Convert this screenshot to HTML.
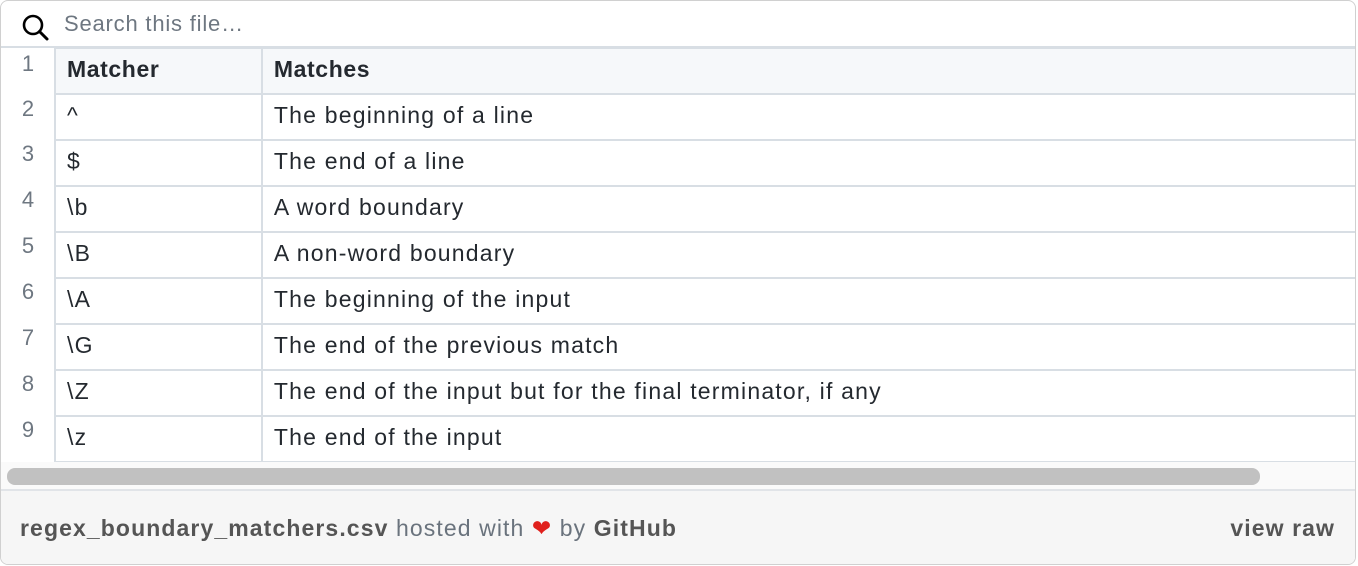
<!DOCTYPE html>
<html><head><style>
body{margin:0;width:1358px;height:566px;background:#fff;font-family:"Liberation Sans",sans-serif;overflow:hidden}
.box{position:absolute;left:0;top:0;width:1354px;height:563px;border:1px solid #d0d0d0;border-radius:8px;overflow:hidden;background:#fff}
.search{position:absolute;left:0;top:0;width:1354px;height:45px;border-bottom:2px solid #d8dee4}
.search span{position:absolute;left:63px;top:10px;font-size:22px;letter-spacing:0.8px;color:#6e7781}
.ln{position:absolute;left:0;width:54px;text-align:center;font-size:22px;color:#6e7781}
table{position:absolute;left:53px;top:46px;border-collapse:collapse;font-size:23px;letter-spacing:1.2px;color:#24292f}
td{border:2px solid #d8dee4;height:44px;padding:0 0 3px 11px;vertical-align:middle;box-sizing:border-box}
tr{height:46px}
tr:first-child td{background:#f6f8fa;font-weight:bold;letter-spacing:0.6px}
td:first-child{width:207px}
td:last-child{width:1094px;border-right:none}
.sb{position:absolute;left:0;top:461px;width:1354px;height:27px;background:#fafafa;border-bottom:2px solid #e1e4e8}
.thumb{position:absolute;left:6px;top:6px;width:1253px;height:17px;border-radius:8px;background:#c1c1c1}
.foot{position:absolute;left:0;top:490px;width:1354px;height:74px;background:#f6f6f6;font-size:23px;letter-spacing:1.1px;color:#6a737d}
.foot b{color:#555}
</style></head><body>
<div class="box">
<div class="search">
<svg style="position:absolute;left:20px;top:12px" width="30" height="30" viewBox="0 0 30 30"><circle cx="12" cy="12" r="9" fill="none" stroke="#000" stroke-width="2.6"/><line x1="18.5" y1="18.5" x2="26" y2="26" stroke="#000" stroke-width="3" stroke-linecap="round"/></svg>
<span>Search this file…</span></div>
<div class="ln" style="top:50px">1</div>
<div class="ln" style="top:95px">2</div>
<div class="ln" style="top:140px">3</div>
<div class="ln" style="top:186px">4</div>
<div class="ln" style="top:232px">5</div>
<div class="ln" style="top:278px">6</div>
<div class="ln" style="top:324px">7</div>
<div class="ln" style="top:370px">8</div>
<div class="ln" style="top:416px">9</div>
<table>
<tr><td>Matcher</td><td>Matches</td></tr>
<tr><td>^</td><td>The beginning of a line</td></tr>
<tr><td>$</td><td>The end of a line</td></tr>
<tr><td>\b</td><td>A word boundary</td></tr>
<tr><td>\B</td><td>A non-word boundary</td></tr>
<tr><td>\A</td><td>The beginning of the input</td></tr>
<tr><td>\G</td><td>The end of the previous match</td></tr>
<tr><td>\Z</td><td>The end of the input but for the final terminator, if any</td></tr>
<tr><td>\z</td><td>The end of the input</td></tr>
</table>
<div class="sb"><div class="thumb"></div></div>
<div class="foot">
<div style="position:absolute;left:19px;top:24px"><b>regex_boundary_matchers.csv</b> hosted with <span style="color:#e0201c">❤</span> by <b>GitHub</b></div>
<div style="position:absolute;right:20px;top:24px"><b>view raw</b></div>
</div>
</div>
</body></html>
